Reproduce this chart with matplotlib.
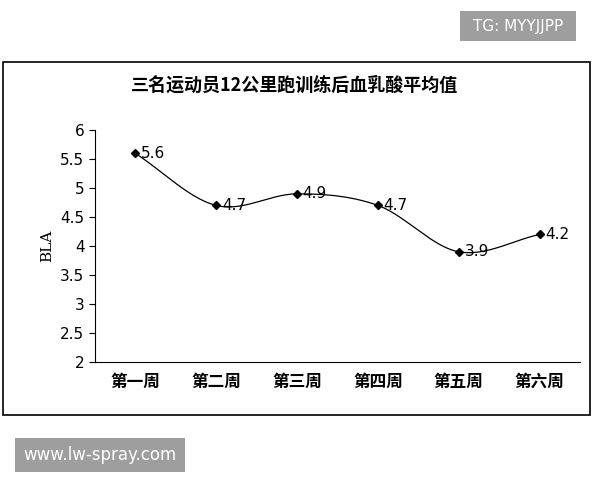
import numpy as np
import matplotlib.pyplot as plt
from matplotlib.patches import Rectangle

plt.rcParams['font.family'] = ['Noto Sans CJK SC', 'DejaVu Sans']

weeks = ['第一周', '第二周', '第三周', '第四周', '第五周', '第六周']
bla = [5.6, 4.7, 4.9, 4.7, 3.9, 4.2]
yticks = [2, 2.5, 3, 3.5, 4, 4.5, 5, 5.5, 6]
ytick_labels = ['2', '2.5', '3', '3.5', '4', '4.5', '5', '5.5', '6']

fig = plt.figure(figsize=(6, 4.8), dpi=100)

# outer chart frame
fig.patches.append(Rectangle((3 / 600, 1 - 415 / 480), 587 / 600, 353 / 480,
                             transform=fig.transFigure, fill=False,
                             edgecolor='black', linewidth=1.2))

ax = fig.add_axes([0.158, 0.246, 0.809, 0.483])

# smoothed line (Catmull-Rom through the data points)
x = np.arange(len(bla), dtype=float)
y = np.array(bla)
px = np.concatenate([[2 * x[0] - x[1]], x, [2 * x[-1] - x[-2]]])
py = np.concatenate([[2 * y[0] - y[1]], y, [2 * y[-1] - y[-2]]])
sx, sy = [], []
t = np.linspace(0, 1, 30)
for i in range(1, len(px) - 2):
    for arr, out in ((px, sx), (py, sy)):
        p0, p1, p2, p3 = arr[i - 1:i + 3]
        out.extend(0.5 * (2 * p1 + (-p0 + p2) * t + (2 * p0 - 5 * p1 + 4 * p2 - p3) * t ** 2
                          + (-p0 + 3 * p1 - 3 * p2 + p3) * t ** 3))
ax.plot(sx, sy, color='black', linewidth=0.9)
ax.plot(x, y, linestyle='none', marker='D', markersize=4.5, color='black')
for xi, yi in zip(x, y):
    ax.text(xi + 0.07, yi, f'{yi}', va='center', ha='left', fontsize=11,
            family='DejaVu Sans')

ax.set_xlim(-0.5, 5.5)
ax.set_ylim(2, 6)
ax.set_xticks(x)
ax.set_xticklabels(weeks, fontsize=12, fontweight='bold')
ax.set_yticks(yticks)
ax.set_yticklabels(ytick_labels, fontsize=11, family='DejaVu Sans')
ax.tick_params(axis='x', length=0, pad=8)
ax.tick_params(axis='y', length=4, direction='out')
ax.spines['top'].set_visible(False)
ax.spines['right'].set_visible(False)
ax.set_ylabel('BLA', fontsize=11, family='DejaVu Serif')

fig.text(0.49, 1 - 85 / 480, '三名运动员12公里跑训练后血乳酸平均值', ha='center',
         va='center', fontsize=13, fontweight='bold')

# watermarks
fig.text(518 / 600, 1 - 26 / 480, ' TG: MYYJJPP ', ha='center', va='center',
         color='white', fontsize=11, family='DejaVu Sans',
         bbox=dict(boxstyle='square,pad=0.5', facecolor='#9e9e9e', edgecolor='none'))
fig.text(100 / 600, 1 - 455 / 480, 'www.lw-spray.com', ha='center', va='center',
         color='white', fontsize=12, family='DejaVu Sans',
         bbox=dict(boxstyle='square,pad=0.5', facecolor='#9e9e9e', edgecolor='none'))

fig.savefig('out.png', dpi=100)
